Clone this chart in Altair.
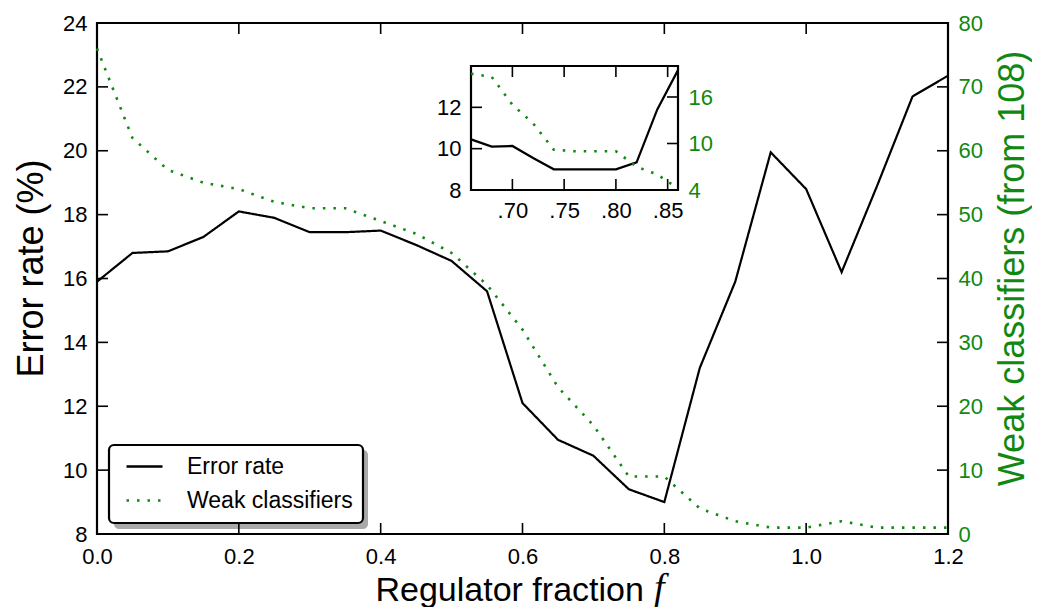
import altair as alt
import pandas as pd

# ---------------- data ----------------
fraction = [0.00, 0.05, 0.10, 0.15, 0.20, 0.25, 0.30, 0.35, 0.40, 0.45, 0.50, 0.55, 0.60,
            0.65, 0.70, 0.75, 0.80, 0.85, 0.90, 0.95, 1.00, 1.05, 1.10, 1.15, 1.20]
error_rate = [15.9, 16.8, 16.85, 17.3, 18.1, 17.9, 17.45, 17.45, 17.5, 17.05, 16.55, 15.6, 12.1,
              10.95, 10.45, 9.4, 9.0, 13.2, 15.9, 19.95, 18.8, 16.2, 18.9, 21.7, 22.35]
weak_classifiers = [76, 62, 57, 55, 54, 52, 51, 51, 49, 47, 44, 39, 32,
                    23, 17, 9, 9, 4, 2, 1, 1, 2, 1, 1, 1]

inset_fraction = [0.66, 0.68, 0.70, 0.72, 0.74, 0.76, 0.78, 0.80, 0.82, 0.84, 0.86]
inset_error = [10.45, 10.1, 10.13, 9.55, 9.0, 9.0, 9.0, 9.0, 9.34, 11.9, 13.8]
inset_weak = [19, 18.6, 15, 12.6, 9.2, 9, 9, 9, 7, 6, 4.2]

series_names = ["Error rate", "Weak classifiers"]

x_ticks = [0.0, 0.2, 0.4, 0.6, 0.8, 1.0, 1.2]
err_ticks = [8, 10, 12, 14, 16, 18, 20, 22, 24]
weak_ticks = [0, 10, 20, 30, 40, 50, 60, 70, 80]
inset_x_ticks = [0.70, 0.75, 0.80, 0.85]
inset_err_ticks = [8, 10, 12]
inset_weak_ticks = [4, 10, 16]

x_domain = [0.0, 1.2]
err_domain = [8, 24]
weak_domain = [0, 80]
inset_x_domain = [0.66, 0.86]
inset_err_domain = [8, 14]
inset_weak_domain = [4, 20]

x_title = "Regulator fraction"
x_title_symbol = ["f"]
y_title = "Error rate (%)"
y2_title = "Weak classifiers (from 108)"

# ---------------- layout / style ----------------
W, H = 851, 511
IX = [374, 581]
IY = [167, 43]
TICK = 11
GREEN = "#118811"
FONT = "Liberation Sans"

sx = alt.Scale(domain=x_domain, nice=False, zero=False)
syL = alt.Scale(domain=err_domain, nice=False, zero=False)
syR = alt.Scale(domain=weak_domain, nice=False, zero=False)
six = alt.Scale(domain=inset_x_domain, range=IX, nice=False, zero=False)
siyL = alt.Scale(domain=inset_err_domain, range=IY, nice=False, zero=False)
siyR = alt.Scale(domain=inset_weak_domain, range=IY, nice=False, zero=False)

color_scale = alt.Scale(domain=series_names, range=["black", GREEN])
dash_scale = alt.Scale(domain=series_names, range=[[1, 0], [2.5, 8]])

legend = alt.Legend(
    title=None, orient="none", legendX=12, legendY=422,
    symbolType="M-3,0H3", symbolSize=144, symbolStrokeWidth=2.4,
    labelFontSize=23, labelFont=FONT, labelOffset=31, symbolOffset=14, labelLimit=400,
    padding=10, rowPadding=10, fillColor="white", strokeColor="black",
    cornerRadius=5,
)

df_err = pd.DataFrame({"f": fraction, "v": error_rate, "series": series_names[0]})
df_weak = pd.DataFrame({"f": fraction, "v": weak_classifiers, "series": series_names[1]})
df_in_err = pd.DataFrame({"f": inset_fraction, "v": inset_error})
df_in_weak = pd.DataFrame({"f": inset_fraction, "v": inset_weak})

one = pd.DataFrame({"k": [0]})

# legend shadow
shadow = alt.Chart(one).mark_rect(fill="#9a9a9a", cornerRadius=5, opacity=0.85).encode(
    x=alt.value(17), x2=alt.value(271), y=alt.value(427), y2=alt.value(506)
)

x_axis = alt.Axis(orient="bottom", values=x_ticks, format=".1f", labelFlush=False,
                  labelOverlap=False, labelPadding=12, title=x_title, titleX=278, titleY=66,
                  titleAlign="left", titleBaseline="alphabetic", titleFontSize=34,
                  titleAnchor="start")
yL_axis = alt.Axis(orient="left", values=err_ticks, labelFlush=False, labelOverlap=False,
                   labelPadding=10, title=y_title, titleAngle=270, titleX=-55, titleY=245,
                   titleAlign="center", titleBaseline="alphabetic")
yR_axis = alt.Axis(orient="right", values=weak_ticks, labelFlush=False, labelOverlap=False,
                   labelPadding=10, labelColor=GREEN, title=y2_title, titleColor=GREEN,
                   titleAngle=270, titleX=75, titleY=245, titleAlign="center",
                   titleBaseline="alphabetic")

err_line = alt.Chart(df_err).mark_line(strokeWidth=2.2).encode(
    x=alt.X("f:Q", scale=sx, axis=x_axis),
    y=alt.Y("v:Q", scale=syL, axis=yL_axis),
    color=alt.Color("series:N", scale=color_scale, legend=legend),
    strokeDash=alt.StrokeDash("series:N", scale=dash_scale, legend=legend),
)
weak_line = alt.Chart(df_weak).mark_line(strokeWidth=2.6).encode(
    x=alt.X("f:Q", scale=sx, axis=None),
    y=alt.Y("v:Q", scale=syR, axis=yR_axis),
    color=alt.Color("series:N", scale=color_scale, legend=legend),
    strokeDash=alt.StrokeDash("series:N", scale=dash_scale, legend=legend),
)

# main inward ticks
df_xt = pd.DataFrame({"v": x_ticks})
df_et = pd.DataFrame({"v": err_ticks})
df_wt = pd.DataFrame({"v": weak_ticks})
tick_kw = dict(color="black", strokeWidth=1.6)
xt_bottom = alt.Chart(df_xt).mark_rule(**tick_kw).encode(
    x=alt.X("v:Q", scale=sx, axis=None), y=alt.value(H - TICK), y2=alt.value(H))
xt_top = alt.Chart(df_xt).mark_rule(**tick_kw).encode(
    x=alt.X("v:Q", scale=sx, axis=None), y=alt.value(0), y2=alt.value(TICK))
yt_left = alt.Chart(df_et).mark_rule(**tick_kw).encode(
    y=alt.Y("v:Q", scale=syL, axis=None), x=alt.value(0), x2=alt.value(TICK))
yt_right = alt.Chart(df_wt).mark_rule(**tick_kw).encode(
    y=alt.Y("v:Q", scale=syR, axis=None), x=alt.value(W - TICK), x2=alt.value(W))

# inset
df_box = pd.DataFrame({"x0": [inset_x_domain[0]], "x1": [inset_x_domain[1]],
                       "y0": [inset_err_domain[0]], "y1": [inset_err_domain[1]]})
inset_box = alt.Chart(df_box).mark_rect(fill="white", stroke="black", strokeWidth=2.2).encode(
    x=alt.X("x0:Q", scale=six, axis=None), x2="x1:Q",
    y=alt.Y("y0:Q", scale=siyL, axis=None), y2="y1:Q",
)
in_x_axis = alt.Axis(orient="bottom", values=inset_x_ticks,
                     labelExpr="substring(format(datum.value, '.2f'), 1)",
                     labelFlush=False, labelOverlap=False, labelPadding=10, title=None,
                     offset=IY[0] - H)
in_yL_axis = alt.Axis(orient="left", values=inset_err_ticks, labelFlush=False,
                      labelOverlap=False, labelPadding=10, title=None, offset=-IX[0])
in_yR_axis = alt.Axis(orient="right", values=inset_weak_ticks, labelFlush=False,
                      labelOverlap=False, labelPadding=10, labelColor=GREEN, title=None,
                      offset=IX[1] - W)
in_err = alt.Chart(df_in_err).mark_line(color="black", strokeWidth=2.2).encode(
    x=alt.X("f:Q", scale=six, axis=in_x_axis),
    y=alt.Y("v:Q", scale=siyL, axis=in_yL_axis),
)
in_weak = alt.Chart(df_in_weak).mark_line(color=GREEN, strokeWidth=2.6, strokeDash=[2.5, 8]).encode(
    x=alt.X("f:Q", scale=six, axis=None),
    y=alt.Y("v:Q", scale=siyR, axis=in_yR_axis),
)
df_ixt = pd.DataFrame({"v": inset_x_ticks})
df_iet = pd.DataFrame({"v": inset_err_ticks[1:]})
df_iwt = pd.DataFrame({"v": inset_weak_ticks[1:]})
ixt_bottom = alt.Chart(df_ixt).mark_rule(**tick_kw).encode(
    x=alt.X("v:Q", scale=six, axis=None), y=alt.value(IY[0] - TICK), y2=alt.value(IY[0]))
ixt_top = alt.Chart(df_ixt).mark_rule(**tick_kw).encode(
    x=alt.X("v:Q", scale=six, axis=None), y=alt.value(IY[1]), y2=alt.value(IY[1] + TICK))
iyt_left = alt.Chart(df_iet).mark_rule(**tick_kw).encode(
    y=alt.Y("v:Q", scale=siyL, axis=None), x=alt.value(IX[0]), x2=alt.value(IX[0] + TICK))
iyt_right = alt.Chart(df_iwt).mark_rule(**tick_kw).encode(
    y=alt.Y("v:Q", scale=siyR, axis=None), x=alt.value(IX[1] - TICK), x2=alt.value(IX[1]))

# italic variable symbol of the x title
f_sym = alt.Chart(pd.DataFrame({"t": x_title_symbol})).mark_text(
    font="Liberation Serif", fontStyle="italic", fontSize=38, align="left",
    baseline="alphabetic", color="black"
).encode(text="t:N", x=alt.value(557), y=alt.value(H + 66))

chart = alt.layer(
    shadow, inset_box, err_line, weak_line, in_err, in_weak,
    xt_bottom, xt_top, yt_left, yt_right,
    ixt_bottom, ixt_top, iyt_left, iyt_right, f_sym,
).resolve_scale(
    x="independent", y="independent"
).resolve_axis(
    x="independent", y="independent"
).properties(
    width=W, height=H,
    padding={"left": 89, "top": 15, "right": 84, "bottom": 73},
    autosize=alt.AutoSizeParams(type="none"),
    background="white",
).configure_view(
    stroke="black", strokeWidth=2.2
).configure_axis(
    labelFont=FONT, titleFont=FONT, labelFontSize=22, titleFontSize=36,
    titleFontWeight="normal", labelColor="black", titleColor="black",
    domain=False, ticks=False, tickSize=0, grid=False,
).configure_legend(
    strokeWidth=2.2, labelColor="black"
)

chart.save("out.html", embed_options={"renderer": "svg", "actions": False})
